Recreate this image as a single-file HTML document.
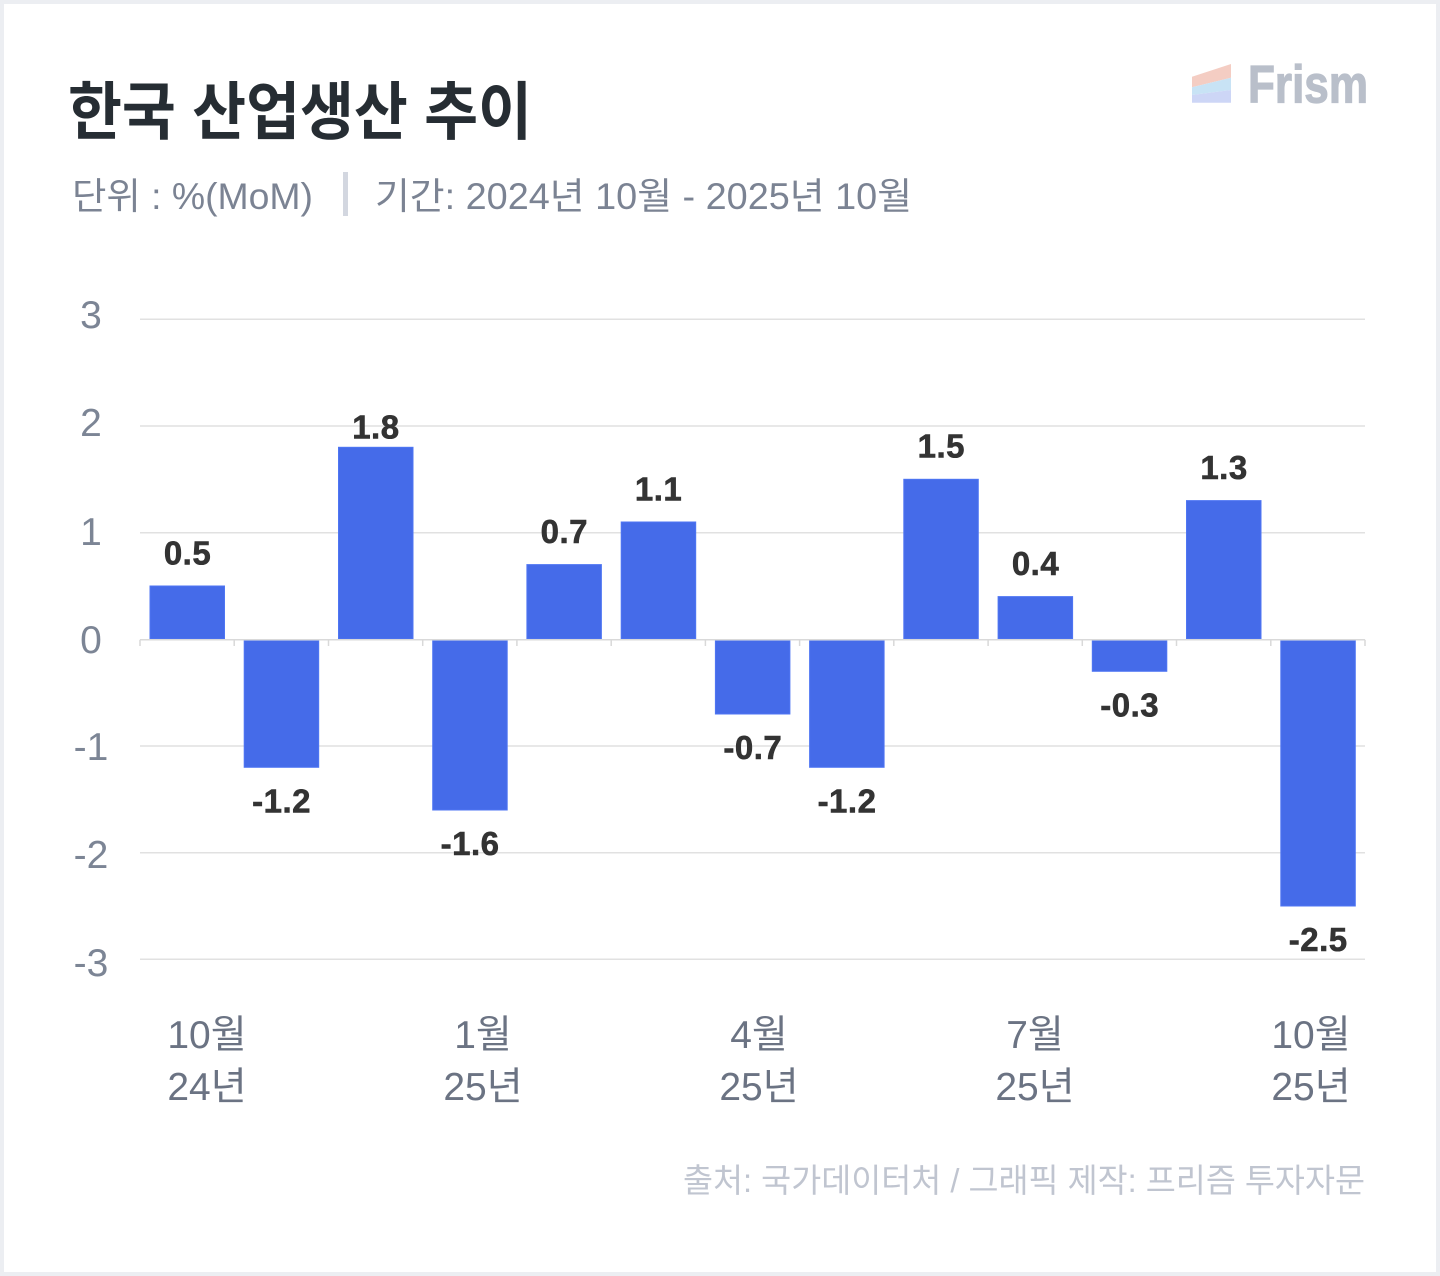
<!DOCTYPE html>
<html><head><meta charset="utf-8"><style>
html,body{margin:0;padding:0;background:#eceef2;}
svg{display:block;}
</style></head><body>
<svg width="1440" height="1276" viewBox="0 0 1440 1276" xmlns="http://www.w3.org/2000/svg">
<rect x="0" y="0" width="1440" height="1276" fill="#eceef2"/>
<rect x="4" y="4" width="1432" height="1268" fill="#ffffff"/>

<!-- Title -->
<text x="68" y="134" font-family="'Liberation Sans','Noto Sans CJK KR',sans-serif" font-weight="700" font-size="63" fill="#262d33" textLength="464" lengthAdjust="spacingAndGlyphs">한국 산업생산 추이</text>

<!-- Subtitle -->
<text x="72" y="209" font-family="'Liberation Sans','Noto Sans CJK KR',sans-serif" font-size="37" fill="#7b8393" textLength="241" lengthAdjust="spacingAndGlyphs">단위 : %(MoM)</text>
<rect x="343" y="172" width="5" height="44" fill="#d3d7e0"/>
<text x="375" y="209" font-family="'Liberation Sans','Noto Sans CJK KR',sans-serif" font-size="37" fill="#7b8393" textLength="537" lengthAdjust="spacingAndGlyphs">기간: 2024년 10월 - 2025년 10월</text>

<!-- Logo -->
<polygon points="1192,76.7 1231,64 1231,77.7 1192,87.3" fill="#f4cdc3"/>
<polygon points="1192,87.3 1231,77.7 1231,90 1192,95" fill="#c8e3f5"/>
<polygon points="1192,95 1231,90 1231,102.7 1192,102.7" fill="#cdd6f6"/>
<text x="1248" y="102.7" font-family="'Liberation Sans',sans-serif" font-weight="700" font-size="53" fill="#b9bfca" stroke="#b9bfca" stroke-width="1.2" textLength="120" lengthAdjust="spacingAndGlyphs">Frism</text>

<!-- Gridlines -->
<g stroke="#e1e1e1" stroke-width="1.5">
<line x1="140" x2="1365" y1="319.3" y2="319.3"/>
<line x1="140" x2="1365" y1="426" y2="426"/>
<line x1="140" x2="1365" y1="532.7" y2="532.7"/>
<line x1="140" x2="1365" y1="746" y2="746"/>
<line x1="140" x2="1365" y1="852.7" y2="852.7"/>
<line x1="140" x2="1365" y1="959.3" y2="959.3"/>
</g>

<!-- Y labels -->
<g font-family="'Liberation Sans',sans-serif" font-size="39" fill="#7c8595" text-anchor="middle">
<text x="91" y="328">3</text>
<text x="91" y="436">2</text>
<text x="91" y="545">1</text>
<text x="91" y="653">0</text>
<text x="91" y="760">-1</text>
<text x="91" y="868">-2</text>
<text x="91" y="976">-3</text>
</g>

<!-- Bars -->
<g fill="#456be9" stroke="#4f76f3" stroke-width="1">
<rect x="150" y="586" width="74.5" height="53"/>
<rect x="244.2" y="640.5" width="74.5" height="126.8"/>
<rect x="338.5" y="447.3" width="74.5" height="191.7"/>
<rect x="432.7" y="640.5" width="74.5" height="169.5"/>
<rect x="526.9" y="564.6" width="74.5" height="74.4"/>
<rect x="621.2" y="522" width="74.5" height="117"/>
<rect x="715.4" y="640.5" width="74.5" height="73.5"/>
<rect x="809.6" y="640.5" width="74.5" height="126.8"/>
<rect x="903.8" y="479.3" width="74.5" height="159.7"/>
<rect x="998.1" y="596.6" width="74.5" height="42.4"/>
<rect x="1092.3" y="640.5" width="74.5" height="30.8"/>
<rect x="1186.5" y="500.6" width="74.5" height="138.4"/>
<rect x="1280.8" y="640.5" width="74.5" height="265.5"/>
</g>

<!-- Zero axis + ticks -->
<g stroke="#d9d9d9" stroke-width="1.5">
<line x1="140" x2="1365" y1="639.8" y2="639.8"/>
<line x1="140" x2="140" y1="639.8" y2="646"/>
<line x1="234.2" x2="234.2" y1="639.8" y2="646"/>
<line x1="328.5" x2="328.5" y1="639.8" y2="646"/>
<line x1="422.7" x2="422.7" y1="639.8" y2="646"/>
<line x1="516.9" x2="516.9" y1="639.8" y2="646"/>
<line x1="611.2" x2="611.2" y1="639.8" y2="646"/>
<line x1="705.4" x2="705.4" y1="639.8" y2="646"/>
<line x1="799.6" x2="799.6" y1="639.8" y2="646"/>
<line x1="893.8" x2="893.8" y1="639.8" y2="646"/>
<line x1="988.1" x2="988.1" y1="639.8" y2="646"/>
<line x1="1082.3" x2="1082.3" y1="639.8" y2="646"/>
<line x1="1176.5" x2="1176.5" y1="639.8" y2="646"/>
<line x1="1270.8" x2="1270.8" y1="639.8" y2="646"/>
<line x1="1365" x2="1365" y1="639.8" y2="646"/>
</g>

<!-- Value labels -->
<g font-family="'Liberation Sans',sans-serif" font-weight="700" font-size="33" fill="#333333" stroke="#333333" stroke-width="0.6" text-anchor="middle" letter-spacing="0.5">
<text x="187.5" y="564.3">0.5</text>
<text x="281.6" y="812.5">-1.2</text>
<text x="375.9" y="438.3">1.8</text>
<text x="470.1" y="855.2">-1.6</text>
<text x="564.3" y="542.9">0.7</text>
<text x="658.6" y="500.3">1.1</text>
<text x="752.8" y="759.2">-0.7</text>
<text x="847" y="812.5">-1.2</text>
<text x="941.3" y="457.6">1.5</text>
<text x="1035.5" y="574.9">0.4</text>
<text x="1129.7" y="716.5">-0.3</text>
<text x="1224" y="478.9">1.3</text>
<text x="1318.2" y="951.2">-2.5</text>
</g>

<!-- X labels -->
<g font-family="'Liberation Sans','Noto Sans CJK KR',sans-serif" font-size="39" fill="#6b7383" text-anchor="middle">
<text x="207" y="1048">10월</text>
<text x="207" y="1100">24년</text>
<text x="483" y="1048">1월</text>
<text x="483" y="1100">25년</text>
<text x="759" y="1048">4월</text>
<text x="759" y="1100">25년</text>
<text x="1035" y="1048">7월</text>
<text x="1035" y="1100">25년</text>
<text x="1311" y="1048">10월</text>
<text x="1311" y="1100">25년</text>
</g>

<!-- Footer -->
<text x="683" y="1192" font-family="'Liberation Sans','Noto Sans CJK KR',sans-serif" font-size="33" fill="#c0c5d0" textLength="682" lengthAdjust="spacingAndGlyphs">출처: 국가데이터처 / 그래픽 제작: 프리즘 투자자문</text>
</svg>
</body></html>
